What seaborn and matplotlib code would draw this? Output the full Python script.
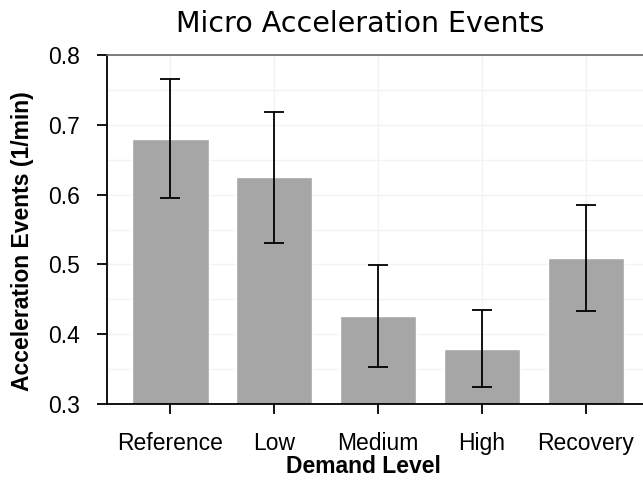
import matplotlib
matplotlib.use("Agg")
import matplotlib.pyplot as plt
import seaborn as sns
import pandas as pd
import numpy as np

# values
levels = ["Reference", "Low", "Medium", "High", "Recovery"]
rate = [0.680, 0.625, 0.426, 0.379, 0.509]
err = [0.085, 0.094, 0.073, 0.055, 0.076]

data = pd.DataFrame({"level": levels, "rate": rate, "err": err})

sns.set_style("white")
plt.rcParams["font.family"] = ["Liberation Sans", "DejaVu Sans"]
plt.rcParams["text.color"] = "black"
plt.rcParams["axes.labelcolor"] = "black"
plt.rcParams["xtick.color"] = "black"
plt.rcParams["ytick.color"] = "black"

fig = plt.figure(figsize=(6.43, 4.8), dpi=100)
ax = fig.add_axes([107 / 643, 1 - 404 / 480, 536 / 643, 349 / 480])

sns.barplot(data=data, x="level", y="rate", color="#a6a6a6", saturation=1,
            width=0.74, errorbar=None, ax=ax, zorder=2)
ax.errorbar(x=np.arange(len(levels)), y=data["rate"], yerr=data["err"],
            fmt="none", ecolor="black", elinewidth=1.3, capsize=7.5,
            capthick=1.3, zorder=3)

ax.set_xlim(-0.606, 4.548)
ax.set_ylim(0.3, 0.8)
ax.set_yticks([0.3, 0.4, 0.5, 0.6, 0.7, 0.8])
ax.set_yticks(np.arange(0.35, 0.8, 0.1), minor=True)
ax.grid(True, which="both", color="#f3f3f3", linewidth=1.0, zorder=0)
ax.set_axisbelow(True)

for side in ["left", "bottom"]:
    ax.spines[side].set_color("black")
    ax.spines[side].set_linewidth(1.3)
ax.spines["top"].set_color("#666666")
ax.spines["top"].set_linewidth(1.2)
ax.spines["right"].set_visible(False)

ax.tick_params(axis="both", which="major", direction="out", length=7.5,
               width=1.3, color="black", labelsize=16.5,
               bottom=True, left=True)
ax.tick_params(axis="x", which="major", pad=13)
ax.tick_params(axis="y", which="major", pad=12)
ax.tick_params(axis="y", which="minor", length=0)

ax.set_xlabel("Demand Level", fontsize=16.5, fontweight="bold")
ax.xaxis.set_label_coords(0.478, -0.147)
ax.set_ylabel("Acceleration Events (1/min)", fontsize=16.5, fontweight="bold")
ax.yaxis.set_label_coords(-0.136, 0.467)
fig.text(360 / 643, 1 - 24 / 480, "Micro Acceleration Events", ha="center",
         va="center", fontsize=20.5, family="DejaVu Sans")

fig.savefig("out.png", dpi=100)
